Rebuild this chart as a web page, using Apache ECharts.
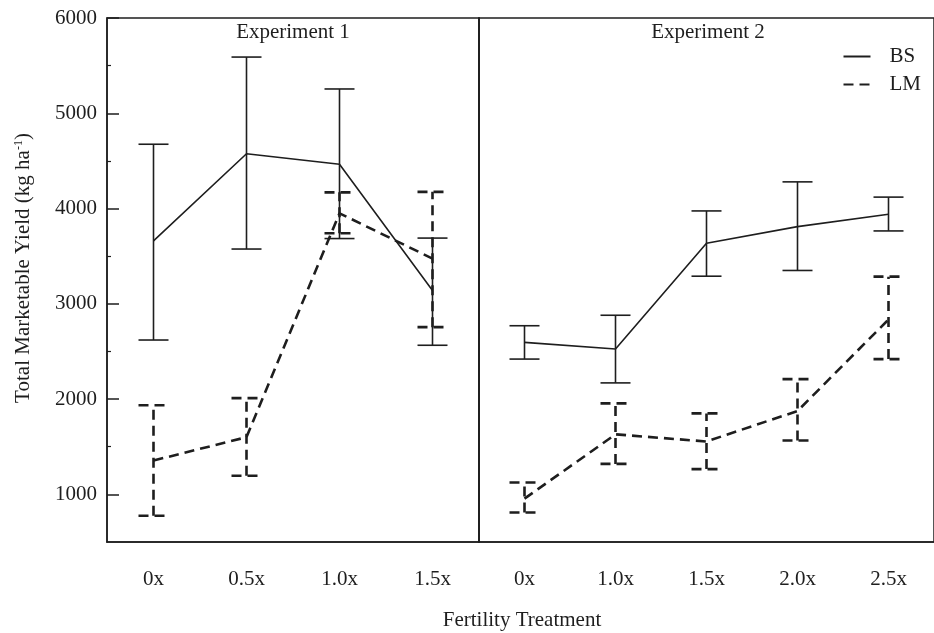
<!DOCTYPE html>
<html>
<head>
<meta charset="utf-8">
<script src="https://cdn.jsdelivr.net/npm/echarts@6/dist/echarts.min.js"></script>
<style>
html,body{margin:0;padding:0;background:#fff;}
#chart{width:934px;height:633px;}
</style>
</head>
<body>
<div id="chart"></div>
<script>
// ---- data ----
const exp1Cats = ['0x', '0.5x', '1.0x', '1.5x'];
const exp2Cats = ['0x', '1.0x', '1.5x', '2.0x', '2.5x'];

const exp1BS     = [3660, 4575, 4465, 3140];
const exp1BSLow  = [2620, 3575, 3685, 2565];
const exp1BSHigh = [4675, 5590, 5255, 3690];
const exp1LM     = [1355, 1600, 3950, 3475];
const exp1LMLow  = [775, 1195, 3740, 2755];
const exp1LMHigh = [1935, 2010, 4170, 4175];

const exp2BS     = [2595, 2525, 3635, 3810, 3940];
const exp2BSLow  = [2420, 2170, 3290, 3350, 3765];
const exp2BSHigh = [2770, 2880, 3975, 4280, 4120];
const exp2LM     = [955, 1630, 1555, 1875, 2835];
const exp2LMLow  = [810, 1320, 1265, 1565, 2420];
const exp2LMHigh = [1125, 1955, 1850, 2210, 3285];

const yMajorTicks = [1000, 2000, 3000, 4000, 5000, 6000];
const yMinorTicks = [1500, 2500, 3500, 4500, 5500];
const panelTitles = ['Experiment 1', 'Experiment 2'];
const seriesNames = ['BS', 'LM'];

// ---- style ----
const FONT = '"Liberation Serif", "Times New Roman", serif';
const FS = 21;
const INK = '#1e1e1e';
const DASH = [10, 6];

function errData(low, high) {
  return low.map((l, i) => [i, l, high[i]]);
}

function errRender(dashed, width) {
  return function (params, api) {
    const i = api.value(0);
    const lo = api.coord([i, api.value(1)]);
    const hi = api.coord([i, api.value(2)]);
    const hw = 15;
    const style = { stroke: INK, lineWidth: width, fill: null };
    if (dashed) style.lineDash = DASH;
    return {
      type: 'group',
      children: [
        { type: 'line', shape: { x1: lo[0], y1: lo[1], x2: hi[0], y2: hi[1] }, style: style },
        { type: 'line', shape: { x1: hi[0] - hw, y1: hi[1], x2: hi[0] + hw, y2: hi[1] }, style: style },
        { type: 'line', shape: { x1: lo[0] - hw, y1: lo[1], x2: lo[0] + hw, y2: lo[1] }, style: style }
      ]
    };
  };
}

const chart = echarts.init(document.getElementById('chart'), null, { renderer: 'canvas' });

const gridTop = 18, gridH = 524;
const axisLabelStyle = { fontFamily: FONT, fontSize: FS, color: INK };
const option = {
  backgroundColor: '#fff',
  animation: false,
  grid: [
    { left: 107, top: gridTop, width: 372, height: gridH, show: true, borderColor: INK, borderWidth: 1.5, backgroundColor: 'transparent' },
    { left: 479, top: gridTop, width: 458, height: gridH, show: true, borderColor: INK, borderWidth: 1.5, backgroundColor: 'transparent' }
  ],
  legend: {
    data: seriesNames,
    orient: 'vertical',
    right: 8,
    top: 41,
    itemWidth: 27,
    itemHeight: 14,
    itemGap: 7,
    itemStyle: { opacity: 0 },
    textStyle: { fontFamily: FONT, fontSize: FS, color: INK, padding: [0, 0, 0, 14] }
  },
  graphic: [
    { type: 'text', x: 293, y: 22, style: { text: panelTitles[0], font: FS + 'px ' + FONT, fill: INK, textAlign: 'center' } },
    { type: 'text', x: 708, y: 22, style: { text: panelTitles[1], font: FS + 'px ' + FONT, fill: INK, textAlign: 'center' } },
    { type: 'text', x: 522, y: 610, style: { text: 'Fertility Treatment', font: FS + 'px ' + FONT, fill: INK, textAlign: 'center' } }
  ],
  xAxis: [
    {
      type: 'category', gridIndex: 0, data: exp1Cats, boundaryGap: true,
      axisLine: { lineStyle: { color: INK, width: 1.5 } },
      axisTick: { inside: true, alignWithLabel: true, length: 6, lineStyle: { color: INK, width: 1.5 } },
      axisLabel: Object.assign({ margin: 27 }, axisLabelStyle),
      splitLine: { show: false }
    },
    {
      type: 'category', gridIndex: 1, data: exp2Cats, boundaryGap: true,
      axisLine: { lineStyle: { color: INK, width: 1.5 } },
      axisTick: { inside: true, alignWithLabel: true, length: 6, lineStyle: { color: INK, width: 1.5 } },
      axisLabel: Object.assign({ margin: 27 }, axisLabelStyle),
      splitLine: { show: false }
    }
  ],
  yAxis: [
    {
      type: 'value', gridIndex: 0, min: 500, max: 6000, interval: 500, position: 'left',
      axisLine: { show: true, lineStyle: { color: INK, width: 1.5 } },
      axisTick: { show: true, inside: true, length: 12, customValues: yMajorTicks, lineStyle: { color: INK, width: 1.5 } },
      axisLabel: Object.assign({ customValues: yMajorTicks, margin: 10, formatter: v => String(v) }, axisLabelStyle),
      splitLine: { show: false },
      name: 'Total Marketable Yield (kg ha{sup|-1})',
      nameLocation: 'middle',
      nameGap: 73,
      nameRotate: 90,
      nameTextStyle: {
        fontFamily: FONT, fontSize: FS, color: INK, padding: [0, 0, 0, 24],
        rich: { sup: { fontFamily: FONT, fontSize: 12, color: INK, verticalAlign: 'top', padding: [0, 0, 8, 0] } }
      }
    },
    {
      type: 'value', gridIndex: 0, min: 500, max: 6000, interval: 500, position: 'left', offset: 0,
      axisLine: { show: false },
      axisTick: { show: true, inside: true, length: 4, customValues: yMinorTicks, lineStyle: { color: INK, width: 1.2 } },
      axisLabel: { show: false },
      splitLine: { show: false }
    },
    {
      type: 'value', gridIndex: 1, min: 500, max: 6000, interval: 500, position: 'left',
      axisLine: { show: true, lineStyle: { color: INK, width: 1.5 } },
      axisTick: { show: false },
      axisLabel: { show: false },
      splitLine: { show: false }
    }
  ],
  series: [
    { name: 'BS', type: 'line', xAxisIndex: 0, yAxisIndex: 0, data: exp1BS, symbol: 'none', lineStyle: { color: INK, width: 1.6 }, itemStyle: { color: INK }, z: 3 },
    { name: 'LM', type: 'line', xAxisIndex: 0, yAxisIndex: 0, data: exp1LM, symbol: 'none', lineStyle: { color: INK, width: 2.6, type: DASH }, itemStyle: { color: INK }, z: 3 },
    { name: 'BS', type: 'line', xAxisIndex: 1, yAxisIndex: 2, data: exp2BS, symbol: 'none', lineStyle: { color: INK, width: 1.6 }, itemStyle: { color: INK }, z: 3 },
    { name: 'LM', type: 'line', xAxisIndex: 1, yAxisIndex: 2, data: exp2LM, symbol: 'none', lineStyle: { color: INK, width: 2.6, type: DASH }, itemStyle: { color: INK }, z: 3 },
    { name: 'BS err', type: 'custom', xAxisIndex: 0, yAxisIndex: 0, data: errData(exp1BSLow, exp1BSHigh), renderItem: errRender(false, 1.6), z: 2 },
    { name: 'LM err', type: 'custom', xAxisIndex: 0, yAxisIndex: 0, data: errData(exp1LMLow, exp1LMHigh), renderItem: errRender(true, 2.6), z: 2 },
    { name: 'BS err', type: 'custom', xAxisIndex: 1, yAxisIndex: 2, data: errData(exp2BSLow, exp2BSHigh), renderItem: errRender(false, 1.6), z: 2 },
    { name: 'LM err', type: 'custom', xAxisIndex: 1, yAxisIndex: 2, data: errData(exp2LMLow, exp2LMHigh), renderItem: errRender(true, 2.6), z: 2 }
  ]
};
chart.setOption(option);
</script>
</body>
</html>
